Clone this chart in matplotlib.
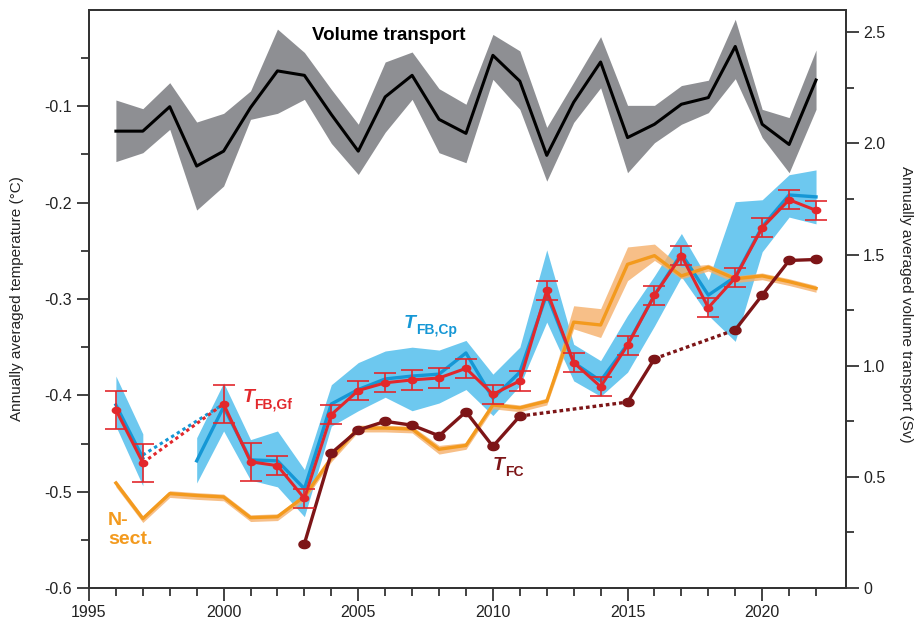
import numpy as np
import matplotlib
matplotlib.use('Agg')
import matplotlib.pyplot as plt

plt.rcParams['font.family'] = ['Liberation Sans', 'DejaVu Sans']
plt.rcParams['axes.unicode_minus'] = False

# ---- volume transport (Sv), right axis
vol_years = list(range(1996, 2023))
vol = [2.055, 2.055, 2.165, 1.898, 1.965, 2.161, 2.326, 2.306, 2.13, 1.965,
       2.209, 2.306, 2.108, 2.045, 2.396, 2.28, 1.946, 2.185, 2.366, 2.026,
       2.086, 2.176, 2.206, 2.436, 2.086, 1.995, 2.285]
vol_hi = [2.195, 2.156, 2.273, 2.096, 2.135, 2.236, 2.514, 2.409, 2.243, 2.086,
          2.366, 2.411, 2.246, 2.176, 2.49, 2.416, 2.072, 2.275, 2.48, 2.171,
          2.171, 2.26, 2.284, 2.558, 2.153, 2.116, 2.42]
vol_lo = [1.918, 1.958, 2.063, 1.70, 1.808, 2.108, 2.135, 2.198, 2.0, 1.86,
          2.05, 2.198, 1.958, 1.913, 2.288, 2.153, 1.83, 2.094, 2.25, 1.868,
          2.003, 2.086, 2.138, 2.291, 2.026, 1.868, 2.153]

# ---- T_FB,Gf (red, with error bars)
gf_years = [1996, 1997] + list(range(2000, 2023))
gf = [-0.415, -0.470, -0.409, -0.469, -0.473, -0.507, -0.420, -0.395, -0.387,
      -0.384, -0.382, -0.372, -0.399, -0.385, -0.291, -0.366, -0.391, -0.348,
      -0.296, -0.255, -0.309, -0.278, -0.226, -0.197, -0.208]
gf_err = [0.02, 0.02, 0.02, 0.02, 0.01, 0.01, 0.01, 0.01, 0.01, 0.01, 0.01,
          0.01, 0.01, 0.01, 0.01, 0.01, 0.01, 0.01, 0.01, 0.01, 0.01, 0.01,
          0.01, 0.01, 0.01]

# ---- T_FB,Cp (blue line + band)
cp_years = [1996, 1997] + list(range(1999, 2023))
cp = [-0.410, -0.465, -0.468, -0.412, -0.467, -0.468, -0.497, -0.409, -0.394,
      -0.383, -0.380, -0.378, -0.356, -0.403, -0.376, -0.295, -0.366, -0.385,
      -0.347, -0.296, -0.253, -0.296, -0.277, -0.225, -0.192, -0.194]
cp_hi = [-0.380, -0.440, -0.444, -0.387, -0.446, -0.437, -0.477, -0.389, -0.366,
         -0.354, -0.350, -0.353, -0.343, -0.378, -0.350, -0.249, -0.347, -0.364,
         -0.317, -0.276, -0.232, -0.280, -0.199, -0.197, -0.171, -0.166]
cp_lo = [-0.432, -0.494, -0.491, -0.437, -0.488, -0.495, -0.526, -0.432, -0.416,
         -0.402, -0.416, -0.408, -0.394, -0.421, -0.390, -0.324, -0.385, -0.401,
         -0.376, -0.328, -0.277, -0.317, -0.344, -0.251, -0.215, -0.222]

# ---- T_FC (dark red)
fc_years = [2003, 2004, 2005, 2006, 2007, 2008, 2009, 2010, 2011, 2015, 2016,
            2019, 2020, 2021, 2022]
fc = [-0.554, -0.460, -0.436, -0.427, -0.431, -0.442, -0.417, -0.453, -0.4215,
      -0.407, -0.362, -0.332, -0.296, -0.260, -0.259]

# ---- N-section (orange line + band)
ns_years = list(range(1996, 2023))
ns = [-0.491, -0.528, -0.502, -0.504, -0.5055, -0.527, -0.526, -0.505, -0.465,
      -0.434, -0.434, -0.435, -0.456, -0.452, -0.410, -0.413, -0.406, -0.324,
      -0.327, -0.264, -0.255, -0.276, -0.267, -0.279, -0.276, -0.282, -0.289]
ns_hi = [-0.488, -0.525, -0.499, -0.501, -0.5025, -0.524, -0.523, -0.502, -0.462,
         -0.431, -0.431, -0.432, -0.452, -0.449, -0.407, -0.410, -0.403, -0.307,
         -0.310, -0.246, -0.243, -0.267, -0.264, -0.276, -0.273, -0.279, -0.286]
ns_lo = [-0.495, -0.532, -0.506, -0.508, -0.5095, -0.531, -0.530, -0.509, -0.469,
         -0.438, -0.438, -0.439, -0.461, -0.456, -0.414, -0.417, -0.410, -0.331,
         -0.340, -0.281, -0.260, -0.279, -0.271, -0.283, -0.280, -0.286, -0.293]

c_red = '#e2282c'
c_blue = '#1597d5'
c_blueband = '#6dc8ef'
c_maroon = '#7d1517'
c_orange = '#f39a1e'
c_orband = '#f5b06a'
c_grey = '#8e8f93'

# elliptical marker
t = np.linspace(0, 2 * np.pi, 40)
ell = np.column_stack([1.35 * np.cos(t), np.sin(t)])


def seg_plot(axis, xs, ys, color, lw, dash, z):
    # solid between consecutive years, dotted across gaps
    for i in range(len(xs) - 1):
        gap = xs[i + 1] - xs[i] > 1
        axis.plot(xs[i:i + 2], ys[i:i + 2], color=color, lw=lw,
                  ls=dash if gap else '-', zorder=z)


fig = plt.figure(figsize=(9.21, 6.2), dpi=100)
ax = fig.add_axes([0.0966, 0.0516, 0.8216, 0.9323])
ax2 = ax.twinx()

# blue band, split where there is no data (1998)
cp_y = np.array(cp_years)
m1 = cp_y <= 1997
m2 = cp_y >= 1999
for m in (m1, m2):
    ax.fill_between(cp_y[m], np.array(cp_lo)[m], np.array(cp_hi)[m],
                    color=c_blueband, lw=0, zorder=1)
ax.fill_between(ns_years, ns_lo, ns_hi, color=c_orband, alpha=0.8, lw=0, zorder=2)

# blue line
ax.plot(cp_y[m1], np.array(cp)[m1], color=c_blue, lw=2.4, zorder=3)
ax.plot(cp_y[m2], np.array(cp)[m2], color=c_blue, lw=2.4, zorder=3)
ax.plot([1997, 2000], [cp[1] + 0.003, cp[3] + 0.003], color=c_blue, lw=2.2,
        ls=(2.2, (1.1, 1.1)), zorder=3)

# orange line
ax.plot(ns_years, ns, color=c_orange, lw=2.4, zorder=4)

# T_FC
seg_plot(ax, fc_years, fc, c_maroon, 2.4, (0, (1.1, 0.9)), 5)
ax.plot(fc_years, fc, ls='none', marker=ell, ms=8, color=c_maroon, zorder=5)

# T_FB,Gf
seg_plot(ax, gf_years, gf, c_red, 2.2, (0, (1.1, 1.1)), 6)
ax.errorbar(gf_years, gf, yerr=gf_err, fmt='none', ecolor=c_red, elinewidth=1.2,
            capsize=8, capthick=1.2, zorder=6)
ax.plot(gf_years, gf, ls='none', marker=ell, ms=6, color=c_red, zorder=7)

# volume transport
ax2.fill_between(vol_years, vol_lo, vol_hi, color=c_grey, lw=0, zorder=1)
ax2.plot(vol_years, vol, color='black', lw=2.2, zorder=2)

# labels in the plot
ax.text(2006.15, -0.026, 'Volume transport', fontsize=13.5, fontweight='bold',
        ha='center', va='center', zorder=10)
ax.text(2006.7, -0.325, 'T', color=c_blue, fontsize=14, fontweight='bold',
        fontstyle='italic', ha='left', va='center')
ax.text(2007.15, -0.332, 'FB,Cp', color=c_blue, fontsize=10, fontweight='bold',
        ha='left', va='center')
ax.text(2000.7, -0.402, 'T', color=c_red, fontsize=14, fontweight='bold',
        fontstyle='italic', ha='left', va='center')
ax.text(2001.15, -0.409, 'FB,Gf', color=c_red, fontsize=10, fontweight='bold',
        ha='left', va='center')
ax.text(2010.0, -0.473, 'T', color=c_maroon, fontsize=14, fontweight='bold',
        fontstyle='italic', ha='left', va='center')
ax.text(2010.45, -0.480, 'FC', color=c_maroon, fontsize=10, fontweight='bold',
        ha='left', va='center')
ax.text(1995.7, -0.54, 'N-\nsect.', color=c_orange, fontsize=14,
        fontweight='bold', ha='left', va='center', linespacing=1.15)

# axes
ax.set_xlim(1995, 2023.1)
ax.set_ylim(-0.6, 0.0)
ax2.set_ylim(0, 2.6)
ax.set_xticks(range(1995, 2021, 5))
ax.set_xticks(range(1996, 2023), minor=True)
ax.set_yticks([-0.6, -0.5, -0.4, -0.3, -0.2, -0.1])
ax.set_yticklabels(['-0.6', '-0.5', '-0.4', '-0.3', '-0.2', '-0.1'])
ax.set_yticks(np.arange(-0.55, 0, 0.1), minor=True)
ax2.set_yticks([0, 0.5, 1.0, 1.5, 2.0, 2.5])
ax2.set_yticklabels(['0', '0.5', '1.0', '1.5', '2.0', '2.5'])
ax2.set_yticks([0.25, 0.75, 1.25, 1.75, 2.25], minor=True)

for a in (ax, ax2):
    a.tick_params(which='major', direction='out', length=9, width=1.2,
                  labelsize=11.5, colors='#222222')
    a.tick_params(which='minor', direction='out', length=6, width=1.2,
                  colors='#222222')
    for s in a.spines.values():
        s.set_linewidth(1.3)
        s.set_color('#333333')
ax.tick_params(axis='x', which='both', top=False)

ax.set_ylabel('Annually averaged temperature (°C)', fontsize=11, color='#222222')
ax.yaxis.set_label_coords(-0.086, 0.5)
ax2.set_ylabel('Annually averaged volume transport (Sv)', fontsize=11,
               color='#222222', rotation=-90, va='center')
ax2.yaxis.set_label_coords(1.08, 0.49)

fig.savefig('out.png', dpi=100)
